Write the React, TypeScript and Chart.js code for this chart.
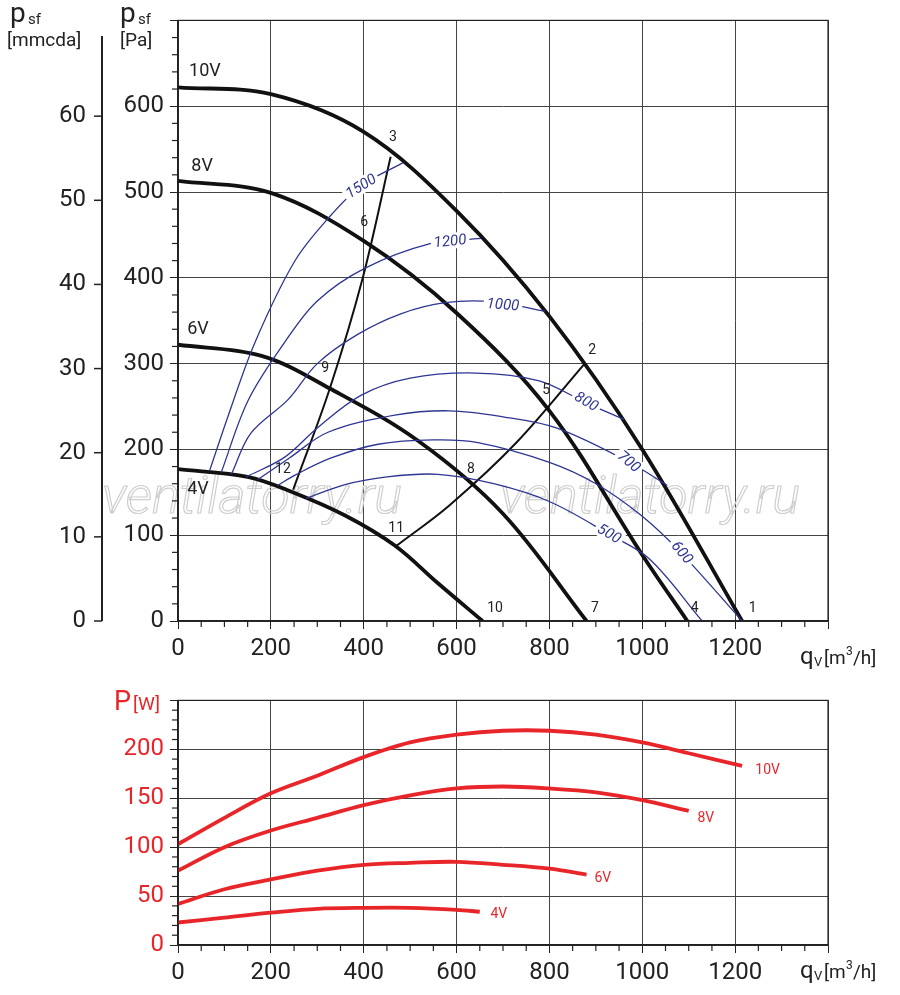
import React, { useEffect, useRef } from "react";
import { Chart, registerables } from "chart.js";
Chart.register(...registerables);

const FONT = 'Roboto, "DejaVu Sans", sans-serif';
const BLUE = "#2e3592";
const RED = "#e8262a";

// fan curves: [q m3/h, p Pa]
const fan10V = [[0,622],[200,614],[400,570],[600,478],[800,355],[1000,200],[1215,0]];
const fan8V = [[0,513],[200,499],[400,443],[600,359],[800,245],[1000,77],[1097,0]];
const fan6V = [[0,322],[180,309],[327,271],[517,210],[700,125],[880,0]];
const fan4V = [[0,177],[150,168],[243,151],[360,123],[467,88],[560,44],[656,0]];
// system lines
const sysA = [[248,153],[327,271],[398,400],[458,541]];
const sysB = [[469,87],[585,135],[729,208],[876,300]];
// iso lines (blue)
const iso1500 = [[68,175],[108,239],[166,325],[251,419],[323,469],[394,507],[484,534]];
const iso1200 = [[93,173],[151,257],[230,325],[300,373],[402,411],[545,440],[653,446]];
const iso1000 = [[115,171],[157,219],[237,258],[300,300],[387,334],[480,358],[575,371],[680,372],[790,361]];
const iso800 = [[147,168],[230,191],[300,225],[394,263],[500,283],[640,289],[778,280],[880,254],[961,235]];
const iso700 = [[172,165],[240,190],[323,220],[467,240],[585,245],[700,238],[815,225],[972,185],[1054,158]];
const iso600 = [[215,158],[252,170],[330,190],[431,206],[550,211],[646,208],[800,185],[900,160],[1000,122],[1086,78],[1215,0]];
const iso500 = [[276,143],[360,159],[450,168],[560,171],[680,160],[801,139],[929,101],[1016,72],[1129,0]];
// iso labels: text, q, p, angle(deg)
const isoLabels: [string, number, number, number][] = [
  ["1500",394,507,-32],["1200",586,443,-6],["1000",700,369,4],["800",880,256,30],
  ["700",972,186,40],["600",1086,80,50],["500",929,102,30]];
const pointLabels: [string, number, number][] = [
  ["3",463,564],["2",892,315],["6",401,464],["5",793,269],["9",317,294],["8",631,177],
  ["12",226,176],["11",470,108],["10",683,14],["7",898,14],["4",1113,14],["1",1238,14]];
const curveLabels: [string, number, number][] = [["10V",58,640],["8V",52,530],["6V",43,340],["4V",43,153]];
// power curves [q, W]
const pow10V = [[0,103],[100,130],[200,155],[300,173],[400,192],[500,207],[600,215],[700,219],[800,219],[900,215],[1000,207],[1100,196],[1215,183]];
const pow8V = [[0,76],[100,100],[200,117],[300,130],[400,143],[500,153],[600,160],[700,162],[800,160],[900,156],[1000,148],[1100,137]];
const pow6V = [[0,42],[100,57],[200,67],[300,76],[400,82],[500,84],[600,85],[700,82],[800,78],[880,72]];
const pow4V = [[0,23],[100,28],[200,33],[300,37],[400,38],[500,38],[600,36],[650,34]];
const powLabels: [string, number, number][] = [["10V",1270,178],["8V",1137,129],["6V",915,68],["4V",691,31]];
const MMCDA = [0,10,20,30,40,50,60];

const pts = (a: number[][]) => a.map(([x, y]) => ({ x, y }));
const ds = (a: number[][], color: string, w: number) => ({
  data: pts(a), borderColor: color, borderWidth: w, pointRadius: 0, fill: false, tension: 0.35,
});

function xScale(h: number) {
  return {
    type: "linear", min: 0, max: 1400,
    ticks: { stepSize: 200, color: "#222", font: { family: FONT, size: 24 }, padding: 6,
      callback: (v: number) => (v >= 1400 ? "" : String(v)) },
    grid: { color: "#444", lineWidth: 1, tickLength: 8, tickColor: "#222" },
    border: { color: "#222", width: 1.5 },
    afterFit: (s: any) => { s.height = h; },
  };
}

function drawQv(ctx: CanvasRenderingContext2D, x: number, y: number) {
  ctx.fillStyle = "#222"; ctx.textAlign = "left"; ctx.textBaseline = "alphabetic";
  ctx.font = `24px ${FONT}`; ctx.fillText("q", x, y);
  ctx.font = `13px ${FONT}`; ctx.fillText("V", x + 14, y + 2);
  ctx.font = `19px ${FONT}`; ctx.fillText("[m", x + 24, y);
  ctx.font = `12px ${FONT}`; ctx.fillText("3", x + 46, y - 9);
  ctx.font = `19px ${FONT}`; ctx.fillText("/h]", x + 53, y);
}

function minorTicks(chart: any, ystep: number) {
  const ctx = chart.ctx, xs = chart.scales.x, ys = chart.scales.y, a = chart.chartArea;
  ctx.save(); ctx.strokeStyle = "#222"; ctx.lineWidth = 1.2;
  ctx.strokeRect(a.left, a.top, a.right - a.left, a.bottom - a.top);
  for (let q = 50; q <= 1400; q += 50) {
    if (q % 200 === 0) continue;
    const x = xs.getPixelForValue(q);
    ctx.beginPath(); ctx.moveTo(x, a.bottom); ctx.lineTo(x, a.bottom + 6); ctx.stroke();
  }
  for (let p = ystep; p <= ys.max; p += ystep) {
    if (p % (ystep * 5) === 0) continue;
    const y = ys.getPixelForValue(p);
    ctx.beginPath(); ctx.moveTo(a.left - 6, y); ctx.lineTo(a.left, y); ctx.stroke();
  }
  ctx.restore();
}

const topPlugin = {
  id: "topdeco",
  beforeDatasetsDraw(chart: any) {
    const ctx = chart.ctx;
    ctx.save();
    ctx.font = `italic 300 52px ${FONT}`; ctx.strokeStyle = "#cfcfcf"; ctx.lineWidth = 1.2;
    ctx.textAlign = "center"; ctx.textBaseline = "middle";
    ctx.strokeText("ventilatorry.ru", 252, 500);
    ctx.strokeText("ventilatorry.ru", 650, 500);
    ctx.restore();
  },
  afterDraw(chart: any) {
    const ctx = chart.ctx, xs = chart.scales.x, ys = chart.scales.y, a = chart.chartArea;
    const X = (q: number) => xs.getPixelForValue(q), Y = (p: number) => ys.getPixelForValue(p);
    minorTicks(chart, 20);
    ctx.save();
    ctx.strokeStyle = "#222"; ctx.lineWidth = 2;
    ctx.beginPath(); ctx.moveTo(102, 36); ctx.lineTo(102, a.bottom); ctx.stroke();
    ctx.lineWidth = 1.5;
    MMCDA.forEach((mm) => {
      const y = Y(mm * 9.80665);
      ctx.beginPath(); ctx.moveTo(94, y); ctx.lineTo(102, y); ctx.stroke();
    });
    ctx.fillStyle = "#222"; ctx.font = `24px ${FONT}`; ctx.textAlign = "right"; ctx.textBaseline = "middle";
    MMCDA.forEach((mm) => ctx.fillText(String(mm), 86, Y(mm * 9.80665)));
    ctx.textAlign = "left"; ctx.textBaseline = "alphabetic";
    ctx.font = `28px ${FONT}`; ctx.fillText("p", 10, 22); ctx.fillText("p", 120, 22);
    ctx.font = `15px ${FONT}`; ctx.fillText("sf", 28, 24); ctx.fillText("sf", 138, 24);
    ctx.font = `19px ${FONT}`; ctx.fillText("[mmcda]", 7, 46); ctx.fillText("[Pa]", 120, 46);
    drawQv(ctx, 800, 664);
    ctx.font = `18px ${FONT}`; ctx.textAlign = "center"; ctx.textBaseline = "middle";
    curveLabels.forEach(([t, q, p]) => ctx.fillText(t, X(q), Y(p)));
    ctx.font = `14px ${FONT}`;
    pointLabels.forEach(([t, q, p]) => ctx.fillText(t, X(q), Y(p)));
    ctx.font = `italic 15px ${FONT}`;
    isoLabels.forEach(([t, q, p, ang]) => {
      ctx.save(); ctx.translate(X(q), Y(p)); ctx.rotate((ang * Math.PI) / 180);
      const w = ctx.measureText(t).width;
      ctx.fillStyle = "#fff"; ctx.fillRect(-w / 2 - 3, -8, w + 6, 16);
      ctx.fillStyle = BLUE; ctx.fillText(t, 0, 1);
      ctx.restore();
    });
    ctx.restore();
  },
};

const botPlugin = {
  id: "botdeco",
  afterDraw(chart: any) {
    const ctx = chart.ctx, xs = chart.scales.x, ys = chart.scales.y;
    minorTicks(chart, 10);
    ctx.save();
    ctx.fillStyle = RED; ctx.textAlign = "left"; ctx.textBaseline = "alphabetic";
    ctx.font = `27px ${FONT}`; ctx.fillText("P", 114, 30);
    ctx.font = `19px ${FONT}`; ctx.fillText("[W]", 133, 30);
    ctx.font = `14px ${FONT}`; ctx.textAlign = "center"; ctx.textBaseline = "middle";
    powLabels.forEach(([t, q, w]) => ctx.fillText(t, xs.getPixelForValue(q), ys.getPixelForValue(w)));
    drawQv(ctx, 800, 298);
    ctx.restore();
  },
};

export default function App() {
  const topRef = useRef<HTMLCanvasElement>(null);
  const botRef = useRef<HTMLCanvasElement>(null);
  useEffect(() => {
    const top = new Chart(topRef.current!, {
      type: "line",
      data: { datasets: [
        ds(iso1500, BLUE, 1.3), ds(iso1200, BLUE, 1.3), ds(iso1000, BLUE, 1.3), ds(iso800, BLUE, 1.3),
        ds(iso700, BLUE, 1.3), ds(iso600, BLUE, 1.3), ds(iso500, BLUE, 1.3),
        ds(sysA, "#111", 2), ds(sysB, "#111", 2),
        ds(fan10V, "#111", 3.8), ds(fan8V, "#111", 3.8), ds(fan6V, "#111", 3.8), ds(fan4V, "#111", 3.8),
      ] as any },
      options: {
        animation: false, responsive: false, maintainAspectRatio: false,
        layout: { padding: { top: 12, right: 72, left: 0, bottom: 0 } },
        plugins: { legend: { display: false }, tooltip: { enabled: false } },
        scales: {
          x: xScale(59) as any,
          y: { type: "linear", min: 0, max: 700,
            ticks: { stepSize: 100, color: "#222", font: { family: FONT, size: 24 }, padding: 6,
              callback: (v: any) => (v >= 700 ? "" : String(v)) },
            grid: { color: "#444", lineWidth: 1, tickLength: 8, tickColor: "#222" },
            border: { color: "#222", width: 1.5 },
            afterFit: (s: any) => { s.width = 178; } } as any,
        },
      },
      plugins: [topPlugin],
    });
    const bot = new Chart(botRef.current!, {
      type: "line",
      data: { datasets: [ds(pow10V, RED, 3.8), ds(pow8V, RED, 3.8), ds(pow6V, RED, 3.8), ds(pow4V, RED, 3.8)] as any },
      options: {
        animation: false, responsive: false, maintainAspectRatio: false,
        layout: { padding: { top: 20, right: 72, left: 0, bottom: 0 } },
        plugins: { legend: { display: false }, tooltip: { enabled: false } },
        scales: {
          x: xScale(50) as any,
          y: { type: "linear", min: 0, max: 250,
            ticks: { stepSize: 50, color: RED, font: { family: FONT, size: 24 }, padding: 6,
              callback: (v: any) => (v >= 250 ? "" : String(v)) },
            grid: { color: "#444", lineWidth: 1, tickLength: 8, tickColor: "#222" },
            border: { color: "#222", width: 1.5 },
            afterFit: (s: any) => { s.width = 178; } } as any,
        },
      },
      plugins: [botPlugin],
    });
    return () => { top.destroy(); bot.destroy(); };
  }, []);
  return (
    <div style={{ position: "fixed", left: 0, top: 0, width: 900, height: 995, background: "#fff" }}>
      <canvas ref={topRef} width={900} height={680} style={{ position: "absolute", left: 0, top: 0, width: 900, height: 680 }} />
      <canvas ref={botRef} width={900} height={315} style={{ position: "absolute", left: 0, top: 680, width: 900, height: 315 }} />
    </div>
  );
}
